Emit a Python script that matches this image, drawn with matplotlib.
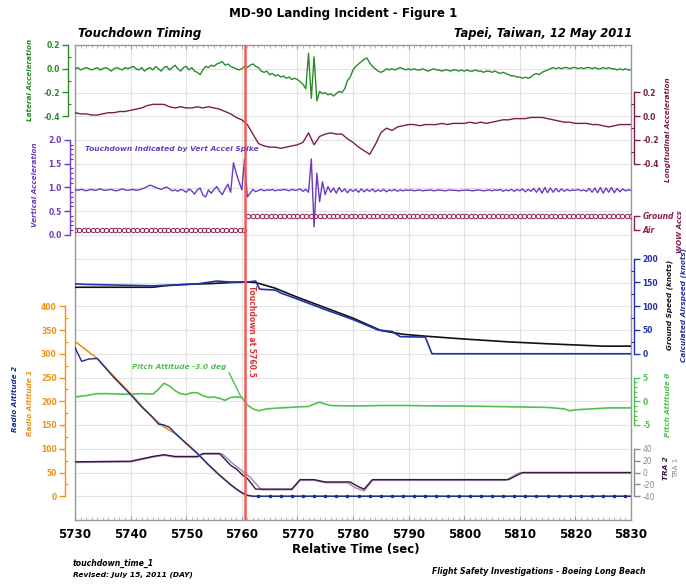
import numpy as np
import matplotlib
matplotlib.use("Agg")
import matplotlib.pyplot as plt
from matplotlib.ticker import FixedLocator, FormatStrFormatter

plt.rcParams['font.family'] = ['DejaVu Sans']
plt.rcParams['axes.unicode_minus'] = False

W, H = 686, 585

# ---------------- time base ----------------
t_start, t_end = 5730, 5830
time_ticks = [5730, 5740, 5750, 5760, 5770, 5780, 5790, 5800, 5810, 5820, 5830]
touchdown_time = 5760.5

# ---------------- lateral acceleration (g), 2 samples/s ----------------
lat_time = np.arange(5730, 5830.01, 0.5)
lat_acc = [
    0.00, 0.01, -0.01, 0.00, 0.01, 0.00, -0.01, 0.00, 0.01, -0.01, 0.00, 0.01, 0.00, -0.02, 0.00, 0.01, 0.00, -0.01, 0.01, 0.00,
    0.01, 0.02, 0.00, -0.01, 0.01, -0.02, 0.00, 0.01, -0.01, 0.02, 0.00, -0.02, 0.01, 0.02, -0.01, 0.01, 0.03, 0.00, -0.02, 0.01,
    0.02, -0.01, 0.01, -0.02, -0.03, -0.05, -0.01, 0.02, 0.01, 0.03, 0.02, 0.04, 0.05, 0.06, 0.03, 0.04, 0.02, 0.01, 0.00, -0.01,
    0.00, 0.02, 0.01, 0.03, 0.04, 0.02, 0.01, -0.02, -0.03, -0.02, -0.05, -0.04, -0.06, -0.05, -0.07, -0.06, -0.08, -0.07, -0.09, -0.08,
    -0.09, -0.11, -0.13, -0.17, 0.13, -0.25, 0.10, -0.27, -0.19, -0.21, -0.20, -0.22, -0.21, -0.23, -0.21, -0.19, -0.20, -0.17, -0.10, -0.07,
    -0.01, 0.02, 0.04, 0.06, 0.08, 0.09, 0.05, 0.02, 0.00, -0.02, -0.03, -0.02, 0.00, -0.01, 0.00, -0.01, 0.00, 0.01, 0.00, -0.01,
    0.00, -0.01, 0.00, -0.01, -0.01, 0.00, -0.01, -0.02, -0.01, 0.00, -0.01, -0.01, -0.02, -0.01, -0.01, -0.02, -0.01, -0.01, -0.02, -0.01,
    -0.02, -0.01, -0.02, -0.02, -0.01, -0.02, -0.02, -0.03, -0.02, -0.02, -0.03, -0.02, -0.03, -0.04, -0.03, -0.04, -0.05, -0.06, -0.06, -0.07,
    -0.07, -0.08, -0.07, -0.08, -0.07, -0.05, -0.04, -0.05, -0.03, -0.02, -0.01, 0.00, 0.01, 0.00, 0.01, 0.00, 0.01, 0.01, 0.00, 0.01,
    0.01, 0.00, 0.01, 0.00, 0.01, 0.01, 0.00, 0.01, 0.00, 0.00, 0.01, 0.00, 0.01, 0.00, 0.00, -0.01, 0.00, -0.01, 0.00, -0.01,
    -0.01,
]

# ---------------- longitudinal acceleration (g), 1 sample/s ----------------
lon_time = np.arange(5730, 5830.01, 1.0)
lon_acc = [
    0.03, 0.02, 0.02, 0.01, 0.01, 0.02, 0.03, 0.03, 0.04, 0.04,
    0.05, 0.06, 0.07, 0.09, 0.10, 0.10, 0.10, 0.08, 0.07, 0.08,
    0.07, 0.07, 0.08, 0.07, 0.08, 0.07, 0.06, 0.04, 0.02, -0.01,
    -0.03, -0.07, -0.15, -0.23, -0.25, -0.26, -0.26, -0.27, -0.26, -0.25,
    -0.24, -0.22, -0.14, -0.24, -0.17, -0.15, -0.14, -0.15, -0.15, -0.19,
    -0.22, -0.26, -0.29, -0.32, -0.24, -0.14, -0.10, -0.12, -0.09, -0.08,
    -0.07, -0.07, -0.08, -0.07, -0.07, -0.07, -0.06, -0.07, -0.06, -0.06,
    -0.06, -0.05, -0.06, -0.05, -0.06, -0.05, -0.04, -0.03, -0.03, -0.02,
    -0.02, -0.02, -0.01, -0.01, -0.01, -0.02, -0.03, -0.04, -0.05, -0.05,
    -0.06, -0.06, -0.06, -0.07, -0.07, -0.08, -0.09, -0.08, -0.07, -0.07,
    -0.07,
]

# ---------------- vertical acceleration (g), 2 samples/s ----------------
vert_time = np.arange(5730, 5830.01, 0.5)
vert_acc = [
    0.95, 0.94, 0.96, 0.95, 0.93, 0.95, 0.96, 0.94, 0.95, 0.97, 0.95, 0.94, 0.95, 0.96, 0.94, 0.93, 0.95, 0.97, 0.95, 0.94,
    0.95, 0.96, 0.94, 0.95, 0.97, 0.99, 1.02, 1.05, 1.03, 1.00, 0.98, 0.96, 0.99, 1.01, 0.97, 0.93, 0.95, 0.92, 0.96, 0.94,
    0.90, 0.97, 0.93, 0.86, 0.95, 0.99, 0.84, 0.80, 0.95, 0.88, 0.96, 1.02, 0.92, 0.85, 0.97, 1.07, 0.90, 1.52, 1.30, 1.12,
    0.95, 1.60, 0.80, 0.88, 0.96, 0.91, 0.94, 0.96, 0.93, 0.95, 0.94, 0.96, 0.93, 0.95, 0.94, 0.96, 0.95, 0.93, 0.96, 0.94,
    0.95, 0.97, 0.92, 0.96, 0.90, 1.60, 0.17, 1.30, 0.70, 1.12, 0.85, 1.02, 0.90, 0.99, 0.88, 1.00, 0.91, 0.97, 0.89, 0.96,
    0.92, 0.96, 0.90, 0.97, 0.91, 0.96, 0.92, 0.97, 0.91, 0.95, 0.92, 0.96, 0.91, 0.95, 0.93, 0.96, 0.92, 0.95, 0.93, 0.95,
    0.94, 0.95, 0.93, 0.94, 0.95, 0.93, 0.94, 0.94, 0.95, 0.93, 0.94, 0.95, 0.94, 0.93, 0.94, 0.95, 0.94, 0.94, 0.93, 0.94,
    0.94, 0.95, 0.94, 0.93, 0.94, 0.95, 0.94, 0.93, 0.94, 0.95, 0.93, 0.95, 0.94, 0.96, 0.92, 0.95, 0.93, 0.96, 0.92, 0.96,
    0.93, 0.97, 0.91, 0.96, 0.92, 0.98, 0.90, 0.99, 0.88, 1.00, 0.89, 0.99, 0.90, 0.98, 0.91, 0.97, 0.92, 0.96, 0.93, 0.95,
    0.94, 0.96, 0.93, 0.95, 0.92, 0.98, 0.90, 0.99, 0.89, 1.00, 0.88, 0.99, 0.90, 1.00, 0.89, 0.98, 0.91, 0.97, 0.93, 0.95,
    0.94,
]

# ---------------- weight-on-wheels discrete ----------------
wow_time = np.arange(5730, 5830.01, 0.8)
wow_state = np.where(wow_time < touchdown_time, 0, 1)   # 0 = Air, 1 = Ground
wow_labels = ['Air', 'Ground']

# ---------------- ground speed / calculated airspeed (knots) ----------------
gs_time = [5730, 5744, 5746, 5750, 5755, 5758, 5761, 5762.5, 5766, 5770, 5775, 5780, 5785, 5789, 5793, 5800, 5808, 5815, 5825, 5830]
gs_kt = [140, 140, 143, 146, 148, 150, 151, 150, 138, 119, 97, 75, 49, 41, 37, 31, 25, 21, 16, 16]

cas_time = [5730, 5732, 5736, 5740, 5744, 5748, 5752, 5755.5, 5758, 5761, 5762.5, 5763.2, 5766, 5767, 5770,
            5775, 5780, 5784.5, 5787, 5788.5, 5793, 5794.2, 5830]
cas_kt = [147, 146, 145, 144, 143, 145, 147, 153, 151, 151, 153, 136, 134, 128, 115,
          93, 72, 50, 47, 36, 35, 0, 0]

# ---------------- pitch attitude (deg) ----------------
pitch_time = [5730, 5732, 5734, 5736, 5738, 5740, 5742, 5744, 5745, 5746, 5747, 5748, 5749, 5750, 5751, 5752, 5753,
              5754, 5755, 5756, 5757, 5758, 5759, 5760, 5760.5, 5761, 5762, 5763, 5764.5, 5767, 5770, 5772, 5773,
              5774, 5775, 5776, 5780, 5785, 5790, 5795, 5800, 5805, 5810, 5815, 5818, 5819, 5820, 5823, 5826, 5830]
pitch_deg = [0.9, 1.2, 1.6, 1.6, 1.5, 1.5, 1.6, 1.5, 2.5, 3.8, 3.2, 2.2, 1.6, 1.4, 1.8, 1.8, 1.2,
             0.8, 0.9, 0.6, 0.2, 0.8, 0.9, 0.8, 0.0, -0.8, -1.6, -2.0, -1.6, -1.4, -1.2, -1.1, -0.6,
             -0.2, -0.6, -0.9, -1.0, -0.9, -0.9, -1.0, -1.0, -1.1, -1.2, -1.3, -1.6, -2.0, -1.8, -1.6, -1.4, -1.4]

# ---------------- throttle resolver angles ----------------
tra2_time = [5730, 5740, 5741, 5744, 5746, 5748, 5752, 5753, 5756, 5758, 5759, 5760, 5761, 5762.5, 5769,
             5770.5, 5773, 5775, 5779.5, 5781, 5782, 5783.5, 5808, 5810.5, 5830]
tra2_deg = [18, 19, 21, 27, 30, 27, 27, 32, 32, 12, 6, -3, -10, -28, -28,
            -12, -12, -16, -16, -24, -28, -12, -12, 0, 0]
tra1_time = [5730, 5740, 5741, 5744, 5746, 5748, 5752, 5753, 5756.5, 5758.5, 5760, 5761.5, 5763.5, 5769,
             5770.5, 5773, 5775, 5779, 5780.5, 5782, 5783.5, 5807.5, 5809.8, 5830]
tra1_deg = [17, 18, 20, 26, 29, 26, 26, 31, 31, 14, 3, -8, -29, -29,
            -13, -13, -17, -17, -26, -31, -13, -13, -1, -1]

# ---------------- radio altitudes (ft) ----------------
ra1_time = [5730, 5732, 5734, 5737, 5740, 5742, 5744, 5746, 5748, 5750, 5752, 5754, 5756, 5758, 5759, 5760, 5761, 5762, 5830]
ra1_ft = [326, 308, 290, 252, 216, 190, 165, 146, 132, 112, 91, 67, 45, 25, 16, 8, 2, 0, 0]
ra2_time = [5730, 5731.2, 5732.5, 5734, 5737, 5740, 5742, 5744, 5745, 5746, 5747, 5748, 5750, 5752, 5754,
            5756, 5758, 5759, 5760, 5761, 5762, 5830]
ra2_ft = [313, 284, 289, 290, 250, 214, 188, 166, 152, 150, 145, 133, 111, 90, 66,
          44, 24, 15, 7, 2, 0, 0]
ra2_mark_time = np.arange(5763, 5830, 2.0)
ra2_mark_ft = np.zeros(len(ra2_mark_time))

# ---------------- colours ----------------
C_LAT = '#2b8a2b'
C_LON = '#7d1d4e'
C_VERT = '#6a3cc0'
C_WOW = '#8a2355'
C_GS = '#111111'
C_CAS = '#2233aa'
C_PITCH = '#4fc24f'
C_TRA2 = '#3a1646'
C_TRA1 = '#a896b0'
C_RA1 = '#f0920f'
C_RA2 = '#1c2a8c'
C_TD = '#f05a5a'
C_GRID = '#e2e2e2'
C_FRAME = '#999999'

fig = plt.figure(figsize=(W / 100, H / 100), dpi=100)


def fpos(x, y):
    return x / W, 1 - y / H


ROWS = 20
ax = fig.add_axes([75 / W, 1 - 520 / H, (631 - 75) / W, (520 - 45) / H])
ax.set_xlim(t_start, t_end)
ax.set_ylim(0, ROWS)
ax.set_xticks(time_ticks)
ax.xaxis.set_minor_locator(FixedLocator(np.arange(t_start, t_end + 1, 1)))
ax.set_yticks(np.arange(0, ROWS + 1, 1))
ax.grid(True, which='major', color=C_GRID, lw=0.8)
ax.set_axisbelow(True)
for s in ax.spines.values():
    s.set_color(C_FRAME)
    s.set_linewidth(1.0)


def channel(side, zero_row, per_row, bounds, major, minor, color, offset_px,
            fmt='%g', minor_dir='in', label_weight='bold'):
    a = ax.twinx()
    a.set_ylim(-zero_row * per_row, (ROWS - zero_row) * per_row)
    for s in a.spines.values():
        s.set_visible(False)
    sp = a.spines[side]
    sp.set_visible(True)
    sp.set_position(('outward', offset_px * 0.72))
    sp.set_bounds(*bounds)
    sp.set_color(color)
    sp.set_linewidth(1.0)
    if side == 'left':
        a.yaxis.tick_left()
    else:
        a.yaxis.tick_right()
    a.yaxis.set_major_locator(FixedLocator(major))
    a.yaxis.set_minor_locator(FixedLocator(minor))
    if fmt is not None:
        a.yaxis.set_major_formatter(FormatStrFormatter(fmt))
    a.tick_params(axis='y', which='major', direction='out', length=4.5, width=1,
                  color=color, labelcolor=color, labelsize=5.5, pad=1.5)
    a.tick_params(axis='y', which='minor', direction=minor_dir, length=2.5, width=0.8, color=color)
    plt.setp(a.get_yticklabels(), fontweight=label_weight)
    return a


# lateral acceleration band
a_lat = channel('left', 19, 0.2, (-0.4, 0.2), [-0.4, -0.2, 0.0, 0.2], [-0.3, -0.1, 0.1],
                C_LAT, 7, fmt='%.1f')
a_lat.plot(lat_time, lat_acc, color=C_LAT, lw=1.0)

# longitudinal acceleration band
a_lon = channel('right', 17, 0.2, (-0.4, 0.2), [-0.4, -0.2, 0.0, 0.2], [-0.3, -0.1, 0.1],
                C_LON, 3, fmt='%.1f')
a_lon.plot(lon_time, lon_acc, color=C_LON, lw=1.0)

# vertical acceleration band
a_vert = channel('left', 12, 0.5, (0.0, 2.0), [0.0, 0.5, 1.0, 1.5, 2.0],
                 np.arange(0.1, 2.0, 0.1), C_VERT, 5, fmt='%.1f')
a_vert.plot(vert_time, vert_acc, color=C_VERT, lw=1.0)

# weight on wheels
wow_air_row = (520 - 229.5) / 23.75
wow_gnd_row = (520 - 215.5) / 23.75
a_wow = channel('right', wow_air_row, 1.0 / (wow_gnd_row - wow_air_row), (0, 1), [0, 1], [],
                C_WOW, 3, fmt=None)
a_wow.set_yticks([0, 1], labels=wow_labels)
plt.setp(a_wow.get_yticklabels(), fontweight='bold', fontstyle='italic')
a_wow.plot(wow_time, wow_state, ls='none', marker='o', ms=3.2, mfc='none', mec=C_WOW, mew=0.7)

# ground speed / airspeed band
a_spd = channel('right', 7, 50, (0, 200), [0, 50, 100, 150, 200], [25, 75, 125, 175],
                C_CAS, 3, fmt='%d')
a_spd.plot(gs_time, gs_kt, color=C_GS, lw=1.2)
a_spd.plot(cas_time, cas_kt, color=C_CAS, lw=1.2)

# pitch attitude band
a_pitch = channel('right', 5, 5, (-5, 5), [-5, 0, 5], [v for v in range(-4, 5) if v != 0],
                  C_PITCH, 3, fmt='%d', minor_dir='out')
a_pitch.plot(pitch_time, pitch_deg, color=C_PITCH, lw=1.2)
a_pitch.annotate('Pitch Attitude -3.0 deg', xy=(5759.9, 0.8), xytext=(5757.2, 7.2),
                 ha='right', va='center', color=C_PITCH, fontsize=5.3, fontweight='bold',
                 fontstyle='italic',
                 arrowprops=dict(arrowstyle='-', color=C_PITCH, lw=1.0, shrinkA=0, shrinkB=0,
                                 relpos=(1.0, 0.5)))

# throttle resolver angle band
a_tra = channel('right', 2, 40, (-40, 40), [-40, -20, 0, 20, 40], [], '#8a8a8a', 3,
                fmt='%d', label_weight='normal')
a_tra.plot(tra1_time, tra1_deg, color=C_TRA1, lw=1.2)
a_tra.plot(tra2_time, tra2_deg, color=C_TRA2, lw=1.0)

# radio altitude band
a_ra = channel('left', 1, 50, (0, 400), [0, 50, 100, 150, 200, 250, 300, 350, 400],
               [25, 75, 125, 175, 225, 275, 325, 375], C_RA1, 10, fmt='%d')
a_ra.plot(ra1_time, ra1_ft, color=C_RA1, lw=1.2)
a_ra.plot(ra2_time, ra2_ft, color=C_RA2, lw=1.0)
a_ra.plot(ra2_mark_time, ra2_mark_ft, ls='none', marker='.', ms=3, color=C_RA2)

# touchdown marker
a_ra.axvline(touchdown_time, color=C_TD, lw=1.8)

# main axes ticks (after the twins so nothing is re-enabled)
ax.tick_params(axis='y', which='both', length=0, labelleft=False, labelright=False)
ax.tick_params(axis='x', which='major', direction='in', length=3, top=True, color=C_FRAME,
               labelsize=8.6, pad=6)
ax.tick_params(axis='x', which='minor', direction='in', length=2, top=True, color='#b0b0b0')
plt.setp(ax.get_xticklabels(), fontweight='bold')
ax.set_xlim(t_start, t_end)

# ---------------- titles and notes ----------------
fig.text(*fpos(343, 13), 'MD-90 Landing Incident - Figure 1', ha='center', va='center',
         fontsize=8.6, fontweight='bold')
fig.text(*fpos(78, 33), 'Touchdown Timing', ha='left', va='center', fontsize=8.5,
         fontweight='bold', fontstyle='italic')
fig.text(*fpos(632, 33), 'Tapei, Taiwan, 12 May 2011', ha='right', va='center', fontsize=8.3,
         fontweight='bold', fontstyle='italic')
fig.text(*fpos(356, 550), 'Relative Time (sec)', ha='center', va='center', fontsize=8.5,
         fontweight='bold')
fig.text(*fpos(73, 563), 'touchdown_time_1', ha='left', va='center', fontsize=5.6,
         fontweight='bold', fontstyle='italic')
fig.text(*fpos(73, 575), 'Revised: July 15, 2011 (DAY)', ha='left', va='center', fontsize=5.4,
         fontweight='bold', fontstyle='italic')
fig.text(*fpos(645, 572), 'Flight Safety Investigations - Boeing Long Beach', ha='right',
         va='center', fontsize=5.6, fontweight='bold', fontstyle='italic')

fig.text(*fpos(85, 149), 'Touchdown Indicated by Vert Accel Spike', ha='left', va='center',
         fontsize=5.4, fontweight='bold', fontstyle='italic', color=C_VERT)
fig.text(*fpos(251, 331), 'Touchdown at 5760.5', ha='center', va='center', rotation=270,
         fontsize=5.5, fontweight='bold', color='#e03030')

# ---------------- channel names ----------------
lab = dict(rotation=90, ha='center', va='center', fontsize=5.2, fontweight='bold', fontstyle='italic')
fig.text(*fpos(30, 80), 'Lateral Acceleration', color=C_LAT, **lab)
fig.text(*fpos(35, 185), 'Vertical Acceleration', color=C_VERT, **lab)
fig.text(*fpos(15, 399), 'Radio Altitude 2', color=C_RA2, **lab)
fig.text(*fpos(30, 403), 'Radio Altitude 1', color=C_RA1, **lab)
fig.text(*fpos(668, 130), 'Longitudinal Acceleration', color=C_LON, **lab)
fig.text(*fpos(680, 232), 'WOW Accs', color=C_LON, **lab)
fig.text(*fpos(670, 305), 'Ground Speed (knots)', color=C_GS, **lab)
fig.text(*fpos(684, 305), 'Calculated Airspeed (knots)', color=C_CAS, **lab)
fig.text(*fpos(668, 405), 'Pitch Attitude θ', color=C_PITCH, **lab)
fig.text(*fpos(666, 468), 'TRA 2', color=C_TRA2, **lab)
fig.text(*fpos(676, 468), 'TRA 1', color='#8a8a8a', rotation=90, ha='center', va='center',
         fontsize=5.0)

fig.savefig('out.png', dpi=100)
